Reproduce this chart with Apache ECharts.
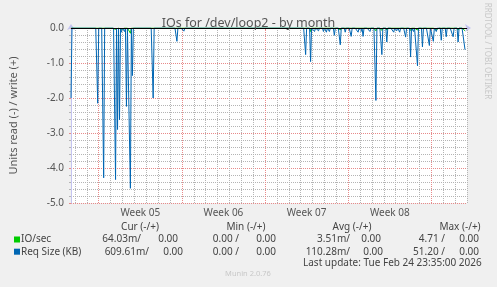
<!DOCTYPE html>
<html>
<head>
<meta charset="utf-8">
<title>IOs for /dev/loop2 - by month</title>
<script src="https://cdn.jsdelivr.net/npm/echarts@6/dist/echarts.min.js"></script>
<style>
  html, body { margin: 0; padding: 0; background: #f0f0f0; }
  #chart { width: 497px; height: 287px; }
</style>
</head>
<body>
<div id="chart"></div>
<script>
// one slot = one pixel column of the munin month graph (about 2 hours)
var slotCount = 401
var lastSlot = 398
var weekLabels = ['Week 05', 'Week 06', 'Week 07', 'Week 08']
var weekLabelSlots = [70, 154, 238, 322]
var weekStartSlots = [28, 112, 196, 280, 364]

// read side, drawn negative: [slot, value]
var ioSecRead = [
  [45, -0.04], [47, -0.05], [49, -0.05], [51, -0.04], [60, -0.15],
  [242, -0.1], [272, -0.06], [308, -0.08], [314, -0.07], [319, -0.06],
  [343, -0.07], [350, -0.06], [362, -0.05], [369, -0.05], [391, -0.06], [398, -0.08]
]
var reqSizeRead = [
  [0, -2.0], [27, -2.15], [33, -4.28], [45, -4.33], [47, -2.9], [49, -2.62],
  [51, -0.12], [54, -0.1], [56, -2.24], [60, -4.58], [62, -1.36], [83, -2.0],
  [107, -0.38], [114, -0.09],
  [237, -0.76], [242, -0.96], [246, -0.1], [250, -0.08], [255, -0.1], [258, -0.12],
  [261, -0.1], [266, -0.21], [272, -0.48], [277, -0.12], [283, -0.24], [290, -0.12],
  [293, -0.1], [295, -0.24], [302, -0.1], [308, -2.07], [314, -0.76], [319, -0.4],
  [326, -0.12], [329, -0.08], [332, -0.12], [338, -0.26], [343, -0.83], [346, -0.1],
  [350, -1.08], [355, -0.54], [362, -0.5], [366, -0.38], [369, -0.1], [374, -0.35],
  [379, -0.25], [386, -0.25], [391, -0.4], [398, -0.62]
]

// legend table
var legendNames = ['IO/sec', 'Req Size (KB)']
var legendColors = ['#00cc00', '#0066b3']
var curVals = [['64.03m', '0.00'], ['609.61m', '0.00']]
var minVals = [['0.00', '0.00'], ['0.00', '0.00']]
var avgVals = [['3.51m', '0.00'], ['110.28m', '0.00']]
var maxVals = [['4.71', '0.00'], ['51.20', '0.00']]
var lastUpdate = 'Last update: Tue Feb 24 23:35:00 2026'

var slots = []
for (var i = 0; i < slotCount; i++) slots.push(String(i))

function toSeries(points) {
  var out = []
  for (var i = 0; i <= lastSlot; i++) out.push(0)
  points.forEach(function(p) { out[p[0]] = p[1] })
  return out
}

function isWeekLine(index) { return weekStartSlots.indexOf(index) >= 0 }

// daily grid lines (every 12 slots), drawn as a rule set since the axis
// only carries the week lines
var dayRules = []
for (var s = 4; s < slotCount; s += 12) {
  if (!isWeekLine(s)) dayRules.push({ xAxis: String(s) })
}

var font = '"Noto Sans", "Open Sans", sans-serif'
var gridGray = '#b4b4b4'
var gridRed = '#e88a8a'
var axisBlue = '#c4c4f0'

// legend graphics
var graphics = []
function txt(text, x, y, align, color, size) {
  graphics.push({
    type: 'text', x: x, y: y, silent: true,
    style: {
      text: text, fill: color || '#444', font: (size || 10) + 'px ' + font,
      align: align || 'left', textAlign: align || 'left',
      verticalAlign: 'middle', textVerticalAlign: 'middle'
    }
  })
}
function slash(v) { return /[a-z]$/i.test(v) ? v + '/' : v + ' /' }

txt('Cur (-/+)', 140, 227, 'center')
txt('Min (-/+)', 246, 227, 'center')
txt('Avg (-/+)', 352, 227, 'center')
txt('Max (-/+)', 460, 227, 'center')
var rowY = [239.5, 251.7]
var curX = [[141, 178], [149, 183]]
var avgX = [[350, 381], [350, 383]]
legendNames.forEach(function(name, r) {
  var y = rowY[r]
  graphics.push({ type: 'rect', shape: { x: 14, y: y - 3, width: 6, height: 6 },
    style: { fill: legendColors[r] }, silent: true })
  txt(name, 21, y, 'left')
  txt(slash(curVals[r][0]), curX[r][0], y, 'right')
  txt(curVals[r][1], curX[r][1], y, 'right')
  txt(slash(minVals[r][0]), 239, y, 'right')
  txt(minVals[r][1], 276, y, 'right')
  txt(slash(avgVals[r][0]), avgX[r][0], y, 'right')
  txt(avgVals[r][1], avgX[r][1], y, 'right')
  txt(slash(maxVals[r][0]), 445, y, 'right')
  txt(maxVals[r][1], 479, y, 'right')
})
txt(lastUpdate, 303, 263, 'left')
txt('Munin 2.0.76', 248, 274, 'center', '#c8c8c8', 7.5)
graphics.push({
  type: 'text', x: 487, y: 51, rotation: -Math.PI / 2, silent: true,
  style: {
    text: 'RRDTOOL / TOBI OETIKER', fill: '#c8c8c8', font: '8px ' + font,
    align: 'center', textAlign: 'center', verticalAlign: 'middle', textVerticalAlign: 'middle'
  }
})

var chart = echarts.init(document.getElementById('chart'))
chart.setOption({
  backgroundColor: '#f0f0f0',
  animation: false,
  textStyle: { fontFamily: font },
  title: {
    text: 'IOs for /dev/loop2 - by month',
    left: 'center',
    top: 12,
    textStyle: { fontSize: 12.5, fontWeight: 'normal', color: '#555', fontFamily: font }
  },
  grid: {
    left: 67, top: 28, width: 400, height: 175,
    show: true, backgroundColor: '#ffffff', borderWidth: 0
  },
  xAxis: {
    type: 'category',
    data: slots,
    boundaryGap: false,
    axisLine: {
      show: true,
      symbol: ['none', 'arrow'],
      symbolSize: [6, 6],
      symbolOffset: [0, 4],
      lineStyle: { color: axisBlue, width: 1 }
    },
    axisTick: {
      show: true, length: 3,
      interval: isWeekLine,
      lineStyle: { color: gridRed }
    },
    axisLabel: {
      show: true,
      margin: 5,
      fontSize: 10,
      color: '#555',
      fontFamily: font,
      interval: function(index) { return weekLabelSlots.indexOf(index) >= 0 },
      formatter: function(value, index) {
        var k = weekLabelSlots.indexOf(index)
        return k >= 0 ? weekLabels[k] : ''
      }
    },
    splitLine: {
      show: true,
      interval: isWeekLine,
      lineStyle: { color: gridRed, type: [1, 1], width: 1 }
    }
  },
  yAxis: {
    type: 'value',
    min: -5,
    max: 0,
    interval: 1,
    name: 'Units read (-) / write (+)',
    nameLocation: 'middle',
    nameGap: 52,
    nameTextStyle: { fontSize: 11, color: '#555', fontFamily: font },
    axisLine: {
      show: true,
      symbol: ['none', 'arrow'],
      symbolSize: [6, 6],
      symbolOffset: [0, 4],
      lineStyle: { color: axisBlue, width: 1 }
    },
    axisTick: { show: true, length: 2, lineStyle: { color: gridRed } },
    minorTick: { show: true, splitNumber: 5, length: 2, lineStyle: { color: gridGray } },
    axisLabel: {
      margin: 7, fontSize: 10, color: '#555', fontFamily: font,
      formatter: function(v) { return v.toFixed(1) }
    },
    splitLine: { show: true, lineStyle: { color: gridRed, type: [1, 1], width: 1 } },
    minorSplitLine: { show: true, lineStyle: { color: gridGray, type: [1, 1], width: 1 } }
  },
  series: [
    {
      // carries the daily vertical grid
      name: 'dayGrid',
      type: 'line',
      data: [],
      silent: true,
      z: 1,
      markLine: {
        silent: true,
        symbol: ['none', 'none'],
        label: { show: false },
        emphasis: { disabled: true },
        lineStyle: { color: gridGray, type: [1, 1], width: 1 },
        data: dayRules
      }
    },
    {
      name: 'IO/sec',
      type: 'line',
      data: toSeries(ioSecRead),
      showSymbol: false,
      lineStyle: { color: legendColors[0], width: 1 },
      itemStyle: { color: legendColors[0] },
      z: 2
    },
    {
      name: 'Req Size (KB)',
      type: 'line',
      data: toSeries(reqSizeRead),
      showSymbol: false,
      lineStyle: { color: legendColors[1], width: 1 },
      itemStyle: { color: legendColors[1] },
      z: 3,
      markLine: {
        silent: true,
        symbol: ['none', 'none'],
        label: { show: false },
        lineStyle: { color: '#000', width: 1, type: 'solid' },
        data: [{ yAxis: 0 }]
      }
    }
  ],
  graphic: graphics
})
</script>
</body>
</html>
